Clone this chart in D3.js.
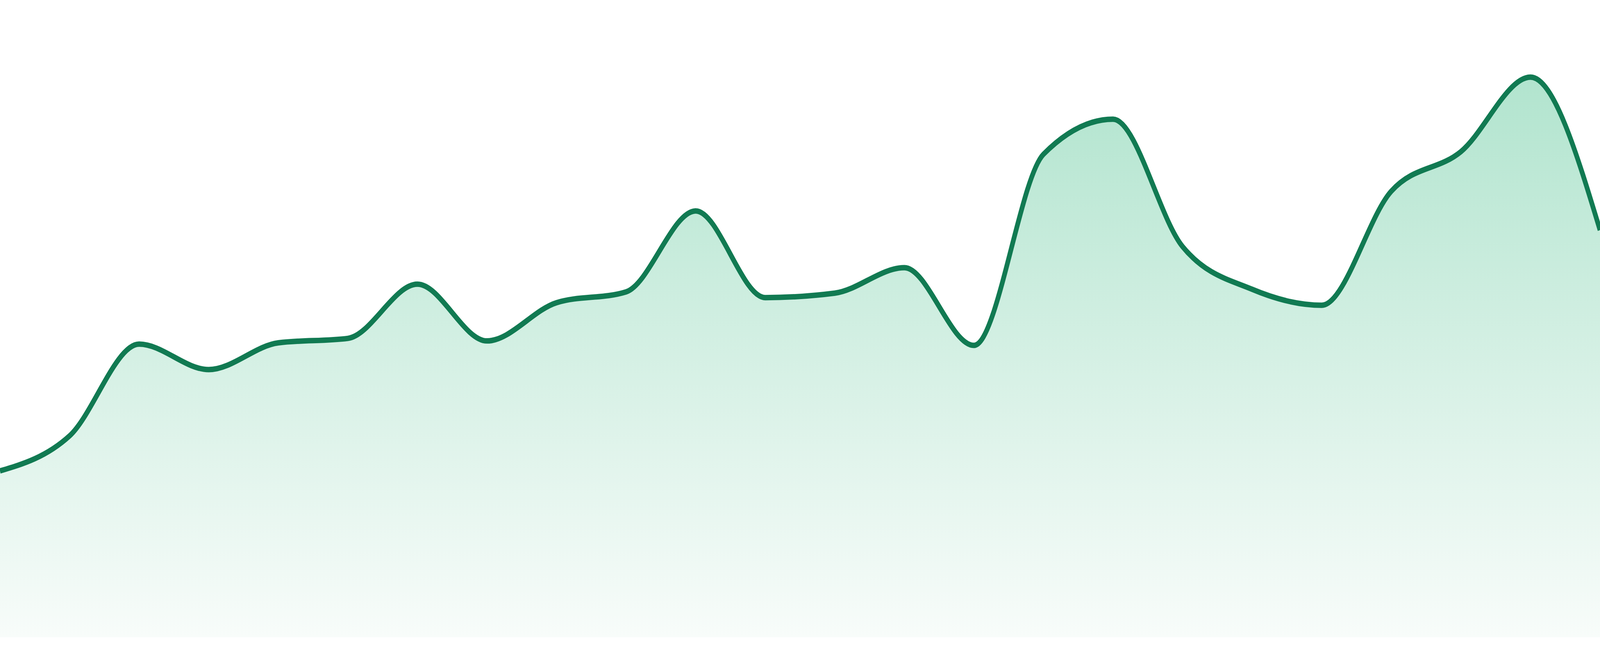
<!DOCTYPE html>
<html>
<head>
<meta charset="utf-8">
<script src="https://cdn.jsdelivr.net/npm/d3@7"></script>
<style>
    html, body { margin: 0; padding: 0; width: 100%; height: 100%; overflow: hidden; background: #ffffff; }
    svg { display: block; }
</style>
</head>
<body>
<script>
// 24 evenly spaced samples, values on a 0-100 scale
var steps = d3.range(24);
var values = [26.1, 31.6, 46.0, 42.0, 46.2, 46.9, 55.4, 46.5, 52.5, 54.2, 66.9, 53.3,
              54.0, 58.0, 45.8, 75.8, 81.3, 61.3, 54.6, 52.1, 70.0, 76.2, 87.9, 63.9];

window.onload = function(){

    var w = 4800, h = 1680, base = 1632;

    var data = steps.map(function(d, i){
        return { step: d, value: values[i] };
    });

    // drawn in a 4800x1680 box, stretched to whatever the window is
    var container = d3.select("body")
        .append("svg")
        .attr("width", "100%")
        .attr("height", "100%")
        .attr("viewBox", "0 0 " + w + " " + h)
        .attr("preserveAspectRatio", "none");

    var x = d3.scaleLinear()
        .domain([0, steps.length - 1])
        .range([0, w]);

    var y = d3.scaleLinear()
        .domain([0, 100])
        .range([base, 0]);

    var grad = container.append("defs")
        .append("linearGradient")
        .attr("id", "fillGrad")
        .attr("gradientUnits", "userSpaceOnUse")
        .attr("x1", 0).attr("x2", 0)
        .attr("y1", y(d3.max(values)) - 8)
        .attr("y2", base);

    grad.append("stop")
        .attr("offset", "0%")
        .attr("stop-color", "#b1e4ce");
    grad.append("stop")
        .attr("offset", "100%")
        .attr("stop-color", "#f8fcfa");

    var area = d3.area()
        .x(function(d){ return x(d.step); })
        .y0(base)
        .y1(function(d){ return y(d.value); })
        .curve(d3.curveMonotoneX);

    var line = d3.line()
        .x(function(d){ return x(d.step); })
        .y(function(d){ return y(d.value); })
        .curve(d3.curveMonotoneX);

    container.append("path")
        .datum(data)
        .attr("class", "area")
        .attr("d", area)
        .style("fill", "url(#fillGrad)");

    container.append("path")
        .datum(data)
        .attr("class", "line")
        .attr("d", line)
        .style("fill", "none")
        .style("stroke", "#117a52")
        .style("stroke-width", 14)
        .style("stroke-linejoin", "round");
};
</script>
</body>
</html>
